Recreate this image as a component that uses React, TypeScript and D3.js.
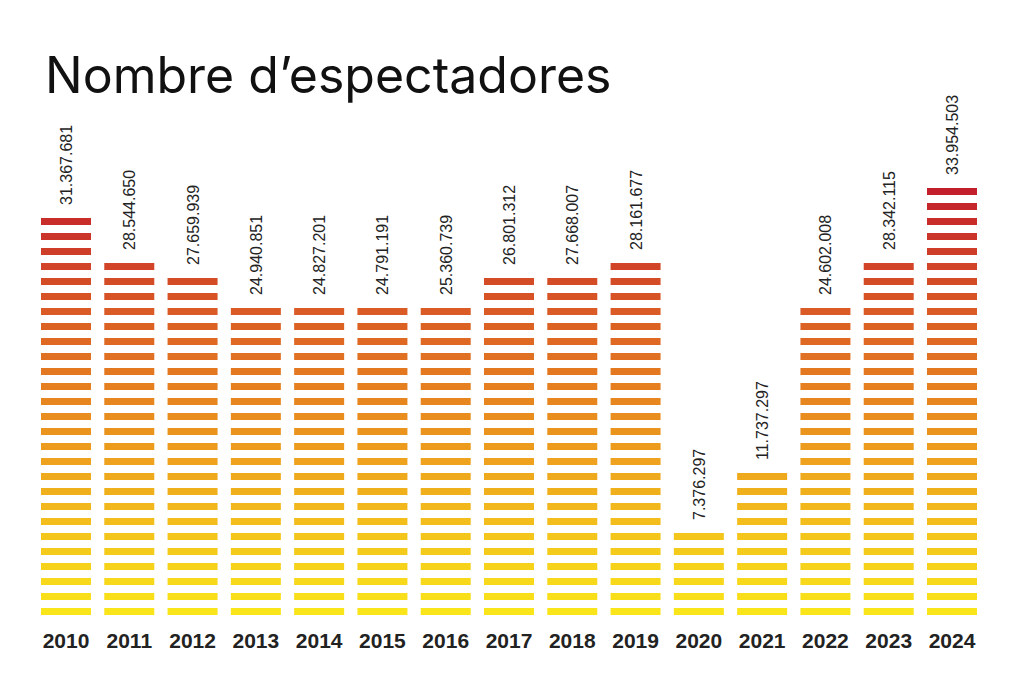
import React from "react";
import * as d3 from "d3";

const years = ["2010","2011","2012","2013","2014","2015","2016","2017","2018","2019","2020","2021","2022","2023","2024"];
const spectators = [31367681,28544650,27659939,24940851,24827201,24791191,25360739,26801312,27668007,28161677,7376297,11737297,24602008,28342115,33954503];
const valueLabels = ["31.367.681","28.544.650","27.659.939","24.940.851","24.827.201","24.791.191","25.360.739","26.801.312","27.668.007","28.161.677","7.376.297","11.737.297","24.602.008","28.342.115","33.954.503"];
const stripeUnit = 1.153e6;
const maxStripes = 29;

export default function App() {
  const W = 1024, H = 682;
  const x = d3.scaleBand<string>().domain(years).range([41, 977]).paddingInner(0.21).paddingOuter(0);
  const stripeScale = d3.scaleLinear().domain([0, stripeUnit * maxStripes]).range([0, maxStripes]);
  const pitch = 15, sh = 7, bottom = 615;
  const color = d3.scaleSequential(d3.interpolateRgbBasis(["#f9e51a","#f2b81c","#e8861e","#d85426","#c21e2b"])).domain([0, maxStripes - 1]);
  return (
    <svg width={W} height={H} style={{ position: "absolute", left: 0, top: 0, background: "#fff" }}>
      <text x={45} y={93} fontFamily="Inter, 'Liberation Sans', sans-serif" fontSize={50} fill="#111">Nombre d’espectadores</text>
      {years.map((yr, i) => {
        const n = Math.min(maxStripes, Math.floor(stripeScale(spectators[i])));
        const x0 = x(yr)!;
        const bw = x.bandwidth();
        const topY = bottom - (n - 1) * pitch - sh;
        return (
          <g key={yr}>
            {d3.range(n).map(k => (
              <rect key={k} x={x0} y={bottom - k * pitch - sh} width={bw} height={sh} fill={color(k)} />
            ))}
            <text transform={`translate(${x0 + bw / 2 + 6},${topY - 13}) rotate(-90)`} fontFamily="'Liberation Sans', Arial, sans-serif" fontSize={16} fill="#222">{valueLabels[i]}</text>
            <text x={x0 + bw / 2} y={648} textAnchor="middle" fontFamily="'Liberation Sans', Arial, sans-serif" fontWeight={900} fontSize={21} fill="#222">{yr}</text>
          </g>
        );
      })}
    </svg>
  );
}
